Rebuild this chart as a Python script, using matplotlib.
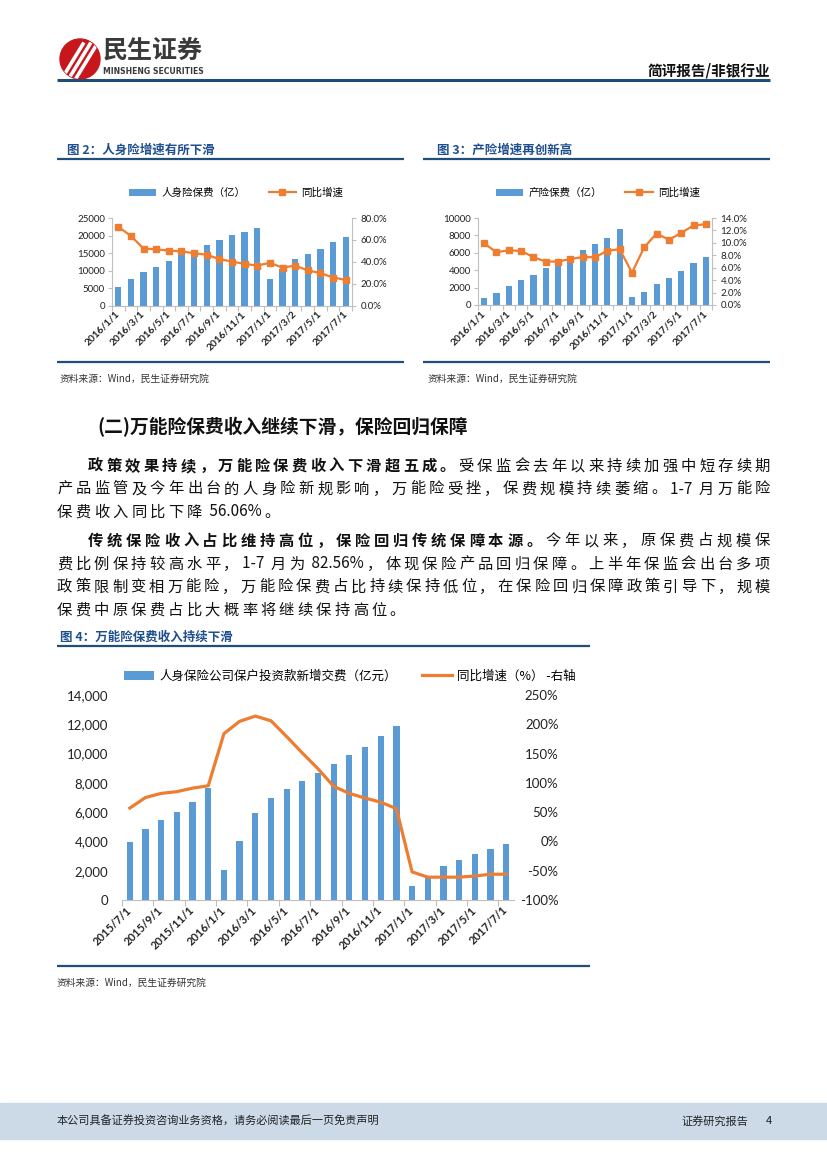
import numpy as np
import matplotlib
matplotlib.use('Agg')
import matplotlib.pyplot as plt
from matplotlib.patches import Patch, Circle, Rectangle
from matplotlib.lines import Line2D

W, H = 827, 1169
plt.rcParams['font.family'] = ['Lato', 'Noto Sans CJK SC', 'DejaVu Sans']
CJK = ['Noto Sans CJK SC', 'DejaVu Sans']

BLUE = '#5B9BD5'
ORANGE = '#ED7D31'
NAVY = '#1F4E79'
TITLE = '#1F4F8F'
AXC = '#BFBFBF'

# ---- data ----
life_cats = ['2016/1/1', '2016/2/1', '2016/3/1', '2016/4/1', '2016/5/1', '2016/6/1', '2016/7/1',
             '2016/8/1', '2016/9/1', '2016/10/1', '2016/11/1', '2016/12/1', '2017/1/1', '2017/2/1',
             '2017/3/2', '2017/4/1', '2017/5/1', '2017/6/1', '2017/7/1']
life_prem = [5300, 7600, 9700, 11100, 12600, 15000, 15700, 17200, 18800, 20100, 21100, 22200,
             7500, 10500, 13400, 14800, 16300, 18300, 19500]
life_yoy = [72.0, 63.6, 52.1, 51.5, 50.2, 49.6, 47.8, 46.5, 42.5, 40.3, 38.1, 36.6, 39.1, 34.7,
            36.6, 32.2, 29.8, 25.7, 23.6]

prop_cats = life_cats
prop_prem = [860, 1360, 2140, 2840, 3500, 4280, 4700, 5300, 6350, 6960, 7740, 8720,
             930, 1480, 2370, 3150, 3930, 4860, 5550]
prop_yoy = [9.9, 8.5, 8.8, 8.7, 7.7, 7.0, 7.0, 7.4, 7.7, 7.7, 8.7, 9.0, 5.2, 9.3, 11.5, 10.5,
            11.6, 12.8, 13.0]

univ_cats = ['2015/7/1', '2015/8/1', '2015/9/1', '2015/10/1', '2015/11/1', '2015/12/1',
             '2016/1/1', '2016/2/1', '2016/3/1', '2016/4/1', '2016/5/1', '2016/6/1', '2016/7/1',
             '2016/8/1', '2016/9/1', '2016/10/1', '2016/11/1', '2016/12/1', '2017/1/1',
             '2017/2/1', '2017/3/1', '2017/4/1', '2017/5/1', '2017/6/1', '2017/7/1']
univ_prem = [3950, 4830, 5490, 6040, 6720, 7650, 2040, 4060, 5970, 6970, 7600, 8100, 8650,
             9280, 9920, 10460, 11210, 11870, 980, 1550, 2320, 2750, 3110, 3490, 3840]
univ_yoy = [57, 75, 82, 85, 91, 95, 184, 205, 214, 206, 179, 151, 124, 94, 82, 74, 67, 56,
            -52, -61, -61, -61, -59, -56, -56]

fig = plt.figure(figsize=(W / 100, H / 100), dpi=100)
page = fig.add_axes([0, 0, 1, 1])
page.set_xlim(0, W)
page.set_ylim(H, 0)
page.axis('off')
renderer = fig.canvas.get_renderer()


def box(x0, y0, x1, y1):
    return fig.add_axes([x0 / W, 1 - y1 / H, (x1 - x0) / W, (y1 - y0) / H])


def hline(x0, x1, y, lw=1.6, color=NAVY):
    page.plot([x0, x1], [y, y], color=color, lw=lw, solid_capstyle='butt')


# ---- header ----
logo = Circle((80, 59), 20, color='#C8161D')
page.add_patch(logo)
for dx in (-9, -2, 5):
    ln, = page.plot([70 + dx, 92 + dx], [80, 44], color='white', lw=2.6)
    ln.set_clip_path(logo)
page.text(103, 51, '民生证券', fontsize=18, weight='bold', color='#3A3A3A', family=CJK, va='center')
page.text(103, 72, 'MINSHENG SECURITIES', fontsize=5.6, weight='bold', color='#3A3A3A',
          va='center', family=['DejaVu Sans'])
page.text(770, 70, '简评报告/非银行业', ha='right', va='center', fontsize=10.5, weight='bold',
          family=CJK, color='#111111')
hline(57, 770, 80, lw=2.2)

# ---- figure titles / rules ----
page.text(67, 150, '图 2：人身险增速有所下滑', fontsize=9, weight='bold', color=TITLE, family=CJK, va='center')
page.text(437, 150, '图 3：产险增速再创新高', fontsize=9, weight='bold', color=TITLE, family=CJK, va='center')
hline(57, 404, 159)
hline(423, 770, 159)
hline(57, 404, 362)
hline(423, 770, 362)
page.text(60, 379, '资料来源：Wind，民生证券研究院', fontsize=7, color='#333333', family=CJK, va='center')
page.text(428, 379, '资料来源：Wind，民生证券研究院', fontsize=7, color='#333333', family=CJK, va='center')


def small_chart(rect, cats, bars, yoy, lmax, lstep, rmax, rstep, bar_label, leg_x):
    n = len(cats)
    x = np.arange(n)
    ax = box(*rect)
    ax.bar(x, bars, width=0.5, color=BLUE, zorder=2)
    ax.set_xlim(-0.5, n - 0.5)
    ax.set_ylim(0, lmax)
    ax.set_yticks(np.arange(0, lmax + 1, lstep))
    ax.set_yticklabels([str(v) for v in range(0, lmax + 1, lstep)])
    ax.tick_params(axis='y', length=3, color=AXC, labelsize=7, pad=2, labelcolor='#222222')
    ax.set_xticks(np.arange(-0.5, n, 1))
    ax.set_xticklabels([])
    ax.tick_params(axis='x', which='major', length=3.5, color=AXC)
    ax.set_xticks(x[::2], minor=True)
    ax.set_xticklabels(cats[::2], minor=True, rotation=45, ha='right', va='center',
                       rotation_mode='anchor', fontsize=7.3, weight='bold', color='#222222')
    ax.tick_params(axis='x', which='minor', length=0, pad=5)
    for s in ('top', 'right'):
        ax.spines[s].set_visible(False)
    for s in ('left', 'bottom'):
        ax.spines[s].set_color(AXC)
    ax2 = ax.twinx()
    ax2.plot(x, yoy, color=ORANGE, lw=1.6, marker='s', ms=4.5, zorder=3)
    ax2.set_ylim(0, rmax)
    rt = np.arange(0, rmax + 0.01, rstep)
    ax2.set_yticks(rt)
    ax2.set_yticklabels(['%.1f%%' % v for v in rt])
    ax2.tick_params(axis='y', length=3, color=AXC, labelsize=7, pad=3, labelcolor='#222222')
    for s in ('top', 'left', 'bottom'):
        ax2.spines[s].set_visible(False)
    ax2.spines['right'].set_color(AXC)
    handles = [Patch(facecolor=BLUE), Line2D([], [], color=ORANGE, lw=1.6, marker='s', ms=4.5)]
    ax.legend(handles, [bar_label, '同比增速'], loc='center', ncol=2, frameon=False,
              bbox_to_anchor=(leg_x / W, 1 - 193 / H), bbox_transform=fig.transFigure,
              prop={'family': CJK, 'size': 7.6}, handlelength=2.6, columnspacing=2.2,
              handletextpad=0.5)


small_chart((112, 218, 352, 305.7), life_cats, life_prem, life_yoy, 25000, 5000, 80, 20,
            '人身险保费（亿）', 236)
small_chart((478, 218, 712, 305), prop_cats, prop_prem, prop_yoy, 10000, 2000, 14, 2,
            '产险保费（亿）', 598)

# ---- body text ----
page.text(97, 427, '(二)万能险保费收入继续下滑，保险回归保障', fontsize=13.5, weight='bold',
          family=CJK, va='center', color='#111111')


def tokens(segs):
    out = []
    for txt, b in segs:
        buf = ''
        for c in txt:
            if ord(c) < 128:
                buf += c
            else:
                if buf:
                    out.append((buf, b))
                    buf = ''
                out.append((c, b))
        if buf:
            out.append((buf, b))
    return out


def text_line(segs, x0, y, x1=None, gap=None, size=11):
    # justified line: CJK characters spread evenly, ascii runs kept together
    objs = []
    for t, b in tokens(segs):
        objs.append(page.text(0, y, t, fontsize=size, weight='bold' if b else 'normal',
                              family=CJK, va='center', ha='left', color='#111111'))
    widths = [o.get_window_extent(renderer).width for o in objs]
    if x1 is not None:
        gap = (x1 - x0 - sum(widths)) / (len(objs) - 1)
    x = x0
    for o, w in zip(objs, widths):
        o.set_x(x)
        x += w + gap
    return gap


text_line([('政策效果持续，万能险保费收入下滑超五成。', True),
           ('受保监会去年以来持续加强中短存续期', False)], 88, 466, 770)
g = text_line([('产品监管及今年出台的人身险新规影响，万能险受挫，保费规模持续萎缩。1-7 月万能险', False)],
              57, 489, 770)
text_line([('保费收入同比下降 56.06%。', False)], 57, 512, gap=g)

text_line([('传统保险收入占比维持高位，保险回归传统保障本源。', True),
           ('今年以来，原保费占规模保', False)], 88, 541, 770)
g = text_line([('费比例保持较高水平，1-7 月为 82.56%，体现保险产品回归保障。上半年保监会出台多项', False)],
              57, 564, 770)
text_line([('政策限制变相万能险，万能险保费占比持续保持低位，在保险回归保障政策引导下，规模', False)],
          57, 587, 770)
text_line([('保费中原保费占比大概率将继续保持高位。', False)], 57, 610, gap=g)

# ---- figure 4 ----
page.text(60, 637, '图 4：万能险保费收入持续下滑', fontsize=9, weight='bold', color=TITLE,
          family=CJK, va='center')
hline(57, 590, 646)
hline(57, 590, 966)
page.text(57, 983, '资料来源：Wind，民生证券研究院', fontsize=7, color='#333333', family=CJK, va='center')

n4 = len(univ_cats)
x4 = np.arange(n4)
ax = box(122, 695, 514, 900)
ax.bar(x4, univ_prem, width=0.4, color=BLUE, zorder=2)
ax.set_xlim(-0.5, n4 - 0.5)
ax.set_ylim(0, 14000)
lt = np.arange(0, 14001, 2000)
ax.set_yticks(lt)
ax.set_yticklabels(['{:,}'.format(v) for v in lt])
ax.tick_params(axis='y', length=0, labelsize=9.5, pad=10, labelcolor='#222222')
ax.set_xticks(np.arange(-0.5, n4, 2))
ax.set_xticklabels([])
ax.tick_params(axis='x', which='major', length=4, color=AXC)
ax.set_xticks(x4[::2], minor=True)
ax.set_xticklabels(univ_cats[::2], minor=True, rotation=45, ha='right', va='center',
                   rotation_mode='anchor', fontsize=8, weight='bold', color='#222222')
ax.tick_params(axis='x', which='minor', length=0, pad=6)
for s in ('top', 'right', 'left'):
    ax.spines[s].set_visible(False)
ax.spines['bottom'].set_color(AXC)

ax2 = ax.twinx()
ax2.plot(x4, univ_yoy, color=ORANGE, lw=2.3, zorder=3)
ax2.set_ylim(-100, 250)
rt = np.arange(-100, 251, 50)
ax2.set_yticks(rt)
ax2.set_yticklabels(['%d%%' % v for v in rt])
ax2.tick_params(axis='y', length=0, labelsize=9.5, pad=32, labelcolor='#222222')
for lab in ax2.get_yticklabels():
    lab.set_horizontalalignment('right')
for s in ('top', 'left', 'bottom', 'right'):
    ax2.spines[s].set_visible(False)

handles = [Patch(facecolor=BLUE), Line2D([], [], color=ORANGE, lw=2.3)]
ax.legend(handles, ['人身保险公司保户投资款新增交费（亿元）', '同比增速（%） -右轴'], loc='center',
          ncol=2, frameon=False, bbox_to_anchor=(350 / W, 1 - 676 / H),
          bbox_transform=fig.transFigure, prop={'family': CJK, 'size': 9},
          handlelength=2.4, columnspacing=2.0, handletextpad=0.4)

# ---- footer ----
page.add_patch(Rectangle((0, 1103), W, 36, color='#CCDAE8', zorder=0))
page.text(57, 1121, '本公司具备证券投资咨询业务资格，请务必阅读最后一页免责声明', fontsize=8,
          family=CJK, va='center', color='#222222')
page.text(748, 1121, '证券研究报告', fontsize=8, family=CJK, va='center', ha='right', color='#222222')
page.text(769, 1121, '4', fontsize=8, family=CJK, va='center', ha='center', color='#222222')

fig.savefig('out.png', dpi=100)
